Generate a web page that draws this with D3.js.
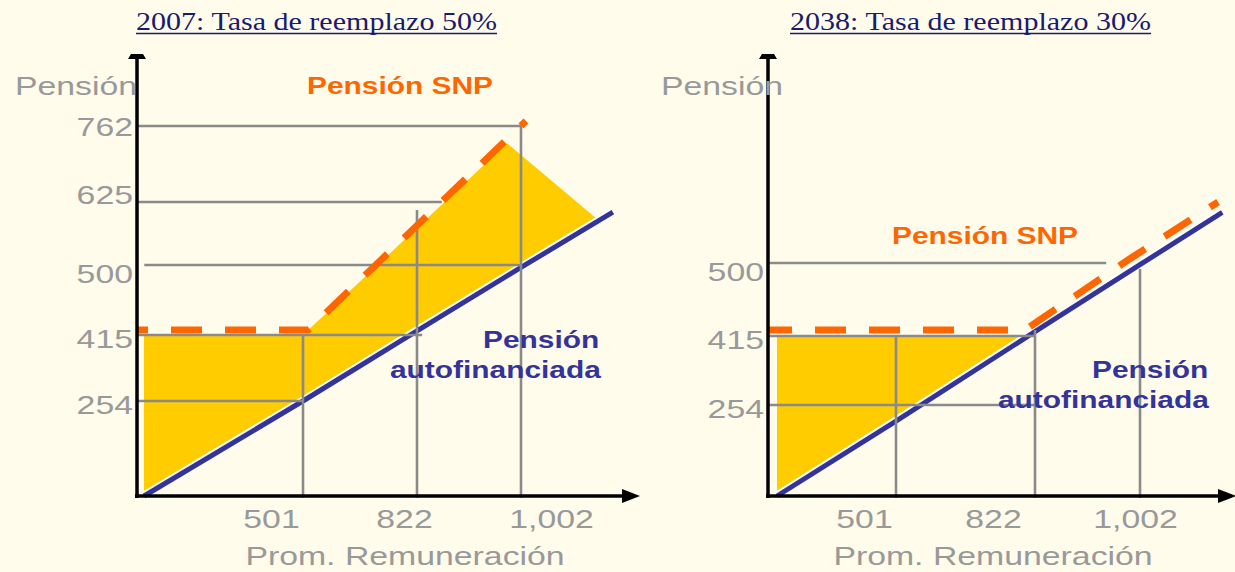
<!DOCTYPE html>
<html>
<head>
<meta charset="utf-8">
<script src="https://cdn.jsdelivr.net/npm/d3@7"></script>
<style>
  body { margin: 0; background: #fffcec; }
  svg { display: block; }
</style>
</head>
<body>
<div id="chart"></div>
<script>
// values: x = Prom. Remuneración, y = Pensión
var remTicks = [501, 822, 1002];
var penTicks2007 = [254, 415, 500, 625, 762];
var penTicks2038 = [254, 415, 500];

// pensión autofinanciada (blue)
var auto2007 = [[0, 0], [501, 254], [822, 420], [1002, 497], [1161, 605]];
var auto2038 = [[0, 0], [501, 209], [822, 420], [1002, 498], [1143, 559]];

// pensión SNP (orange dashed)
var snp2007 = [[0, 415], [501, 415], [1002, 762]];
var snp2038 = [[0, 415], [822, 415], [1002, 498], [1153, 564]];

// shaded area (yellow)
var area2007 = [[0, 415], [501, 415], [978, 731], [1135, 590], [1002, 497], [822, 420], [501, 254], [0, 0]];
var area2038 = [[0, 415], [812, 415], [501, 209], [0, 0]];

// guide lines: horizontal [pensión, from rem, to rem]; vertical [rem, up to pensión]
var hGuides2007 = [[762, 0, 1002], [625, 0, 865], [500, 1, 1002], [415, 0, 831], [254, 0, 501]];
var vGuides2007 = [[501, 415], [822, 609], [1002, 767]];
var hGuides2038 = [[500, 0, 944], [415, 0, 822], [254, 0, 822]];
var vGuides2038 = [[501, 415], [822, 422], [1002, 493]];

var width = 1235, height = 572;
var SX = 1.3;            // the picture is stretched horizontally
var baseY = 496;
var sans = '"Liberation Sans", Arial, sans-serif';

var panels = [
  {
    title: "2007: Tasa de reemplazo 50%", titleX: 136,
    axisX: 137, axisEnd: 640,
    x: d3.scaleLinear().domain([0, 501, 822, 1002]).range([144, 303, 417, 521]),
    y: d3.scaleLinear().domain([0, 254, 415, 500, 625, 762]).range([baseY, 401, 335, 265, 202, 126]),
    yTicks: penTicks2007,
    auto: auto2007, snp: snp2007, area: area2007,
    hGuides: hGuides2007, vGuides: vGuides2007,
    snpShift: [5, -5], dashOffset: 20,
    xNudge: {501: -32, 822: -13, 1002: 30},
    pensionX: 15, snpLabel: [307, 94], autoLabel: [[483, 348], [390, 378]], remX: 405
  },
  {
    title: "2038: Tasa de reemplazo 30%", titleX: 790,
    axisX: 768, axisEnd: 1236,
    x: d3.scaleLinear().domain([0, 501, 822, 1002]).range([777, 896, 1035, 1140]),
    y: d3.scaleLinear().domain([0, 254, 415, 500]).range([baseY, 405, 336, 263]),
    yTicks: penTicks2038,
    auto: auto2038, snp: snp2038, area: area2038,
    hGuides: hGuides2038, vGuides: vGuides2038,
    snpShift: [-10, -6], dashOffset: 7,
    xNudge: {501: -32, 822: -42, 1002: -5},
    pensionX: 661, snpLabel: [892, 244], autoLabel: [[1092, 378], [998, 408]], remX: 993
  }
];

var yNudge = {762: -3, 625: -11, 500: 5};

var svg = d3.select("#chart").append("svg")
  .attr("width", width)
  .attr("height", height);

svg.append("rect").attr("width", width).attr("height", height).attr("fill", "#fffcec");

panels.forEach(function(p) {
  var g = svg.append("g");
  var line = d3.line().x(d => p.x(d[0])).y(d => p.y(d[1]));

  // title
  g.append("text")
    .attr("x", p.titleX)
    .attr("y", 30)
    .attr("textLength", 361)
    .attr("lengthAdjust", "spacingAndGlyphs")
    .attr("font-family", '"Liberation Serif", "Times New Roman", serif')
    .attr("font-size", 26)
    .attr("fill", "#1a1a6e")
    .text(p.title);
  g.append("line")
    .attr("x1", p.titleX).attr("x2", p.titleX + 361)
    .attr("y1", 33.5).attr("y2", 33.5)
    .attr("stroke", "#1a1a6e").attr("stroke-width", 1.5);

  // yellow area
  g.append("path")
    .attr("d", line(p.area) + "Z")
    .attr("fill", "#ffcc00");

  // blue line with white casing
  g.append("path")
    .attr("d", line(p.auto))
    .attr("fill", "none").attr("stroke", "#ffffff").attr("stroke-width", 9);
  g.append("path")
    .attr("d", line(p.auto))
    .attr("fill", "none").attr("stroke", "#333399").attr("stroke-width", 5);

  // guides
  var guides = g.append("g").attr("stroke", "#8a8a8a").attr("stroke-width", 2.6);
  p.hGuides.forEach(function(h) {
    guides.append("line")
      .attr("x1", h[1] === 0 ? p.axisX : p.x(h[1]))
      .attr("x2", p.x(h[2]))
      .attr("y1", p.y(h[0])).attr("y2", p.y(h[0]));
  });
  p.vGuides.forEach(function(v) {
    guides.append("line")
      .attr("x1", p.x(v[0])).attr("x2", p.x(v[0]))
      .attr("y1", p.y(0) + 2).attr("y2", p.y(v[1]));
  });

  // orange dashed SNP line, drawn just above the guides
  var pts = p.snp.map(d => [p.x(d[0]) + p.snpShift[0], p.y(d[1]) + p.snpShift[1]]);
  pts[0][0] = p.axisX;
  g.append("path")
    .attr("d", d3.line()(pts))
    .attr("fill", "none")
    .attr("stroke", "#ff6600")
    .attr("stroke-width", 7)
    .attr("stroke-dasharray", "31 23")
    .attr("stroke-dashoffset", p.dashOffset);

  // axes with arrows
  g.append("line")
    .attr("x1", p.axisX).attr("x2", p.axisX)
    .attr("y1", baseY + 2).attr("y2", 58)
    .attr("stroke", "#000").attr("stroke-width", 3.5);
  g.append("path")
    .attr("d", `M${p.axisX - 9},59 L${p.axisX + 9},59 L${p.axisX + 6},54 L${p.axisX - 6},54 Z`)
    .attr("fill", "#000");
  g.append("line")
    .attr("x1", p.axisX - 2).attr("x2", p.axisEnd - 16)
    .attr("y1", baseY).attr("y2", baseY)
    .attr("stroke", "#000").attr("stroke-width", 3.5);
  g.append("path")
    .attr("d", `M${p.axisEnd - 18},${baseY - 7} L${p.axisEnd},${baseY} L${p.axisEnd - 18},${baseY + 7} Z`)
    .attr("fill", "#000");

  // y tick labels
  var gy = g.append("g")
    .attr("transform", `translate(${p.axisX - 4},0)`)
    .call(d3.axisLeft(p.y).tickValues(p.yTicks).tickSize(0).tickFormat(d3.format(",")));
  gy.select(".domain").remove();
  gy.selectAll("line").remove();
  gy.attr("font-family", sans).attr("font-size", 26);
  gy.selectAll("text")
    .attr("x", null).attr("dy", null)
    .attr("fill", "#999999")
    .attr("transform", d => `translate(0,${12 + (yNudge[d] || 0)}) scale(${SX},1)`);

  // x tick labels
  var gx = g.append("g")
    .attr("transform", `translate(0,${baseY})`)
    .call(d3.axisBottom(p.x).tickValues(remTicks).tickSize(0).tickFormat(d3.format(",")));
  gx.select(".domain").remove();
  gx.selectAll("line").remove();
  gx.attr("font-family", sans).attr("font-size", 26);
  gx.selectAll("text")
    .attr("y", null).attr("dy", null)
    .attr("fill", "#999999")
    .attr("transform", d => `translate(${p.xNudge[d] || 0},32) scale(${SX},1)`);

  // axis titles
  g.append("text")
    .attr("transform", `translate(${p.pensionX},95) scale(${SX},1)`)
    .attr("font-family", sans).attr("font-size", 26).attr("fill", "#999999")
    .text("Pensión");
  g.append("text")
    .attr("transform", `translate(${p.remX},565) scale(${SX},1)`)
    .attr("text-anchor", "middle")
    .attr("font-family", sans).attr("font-size", 26).attr("fill", "#999999")
    .text("Prom. Remuneración");

  // series labels
  g.append("text")
    .attr("transform", `translate(${p.snpLabel[0]},${p.snpLabel[1]}) scale(${SX},1)`)
    .attr("font-family", sans).attr("font-size", 23).attr("font-weight", "bold")
    .attr("fill", "#ff6600")
    .text("Pensión SNP");
  ["Pensión", "autofinanciada"].forEach(function(t, i) {
    g.append("text")
      .attr("transform", `translate(${p.autoLabel[i][0]},${p.autoLabel[i][1]}) scale(${SX},1)`)
      .attr("font-family", sans).attr("font-size", 23).attr("font-weight", "bold")
      .attr("fill", "#333399")
      .text(t);
  });
});
</script>
</body>
</html>
